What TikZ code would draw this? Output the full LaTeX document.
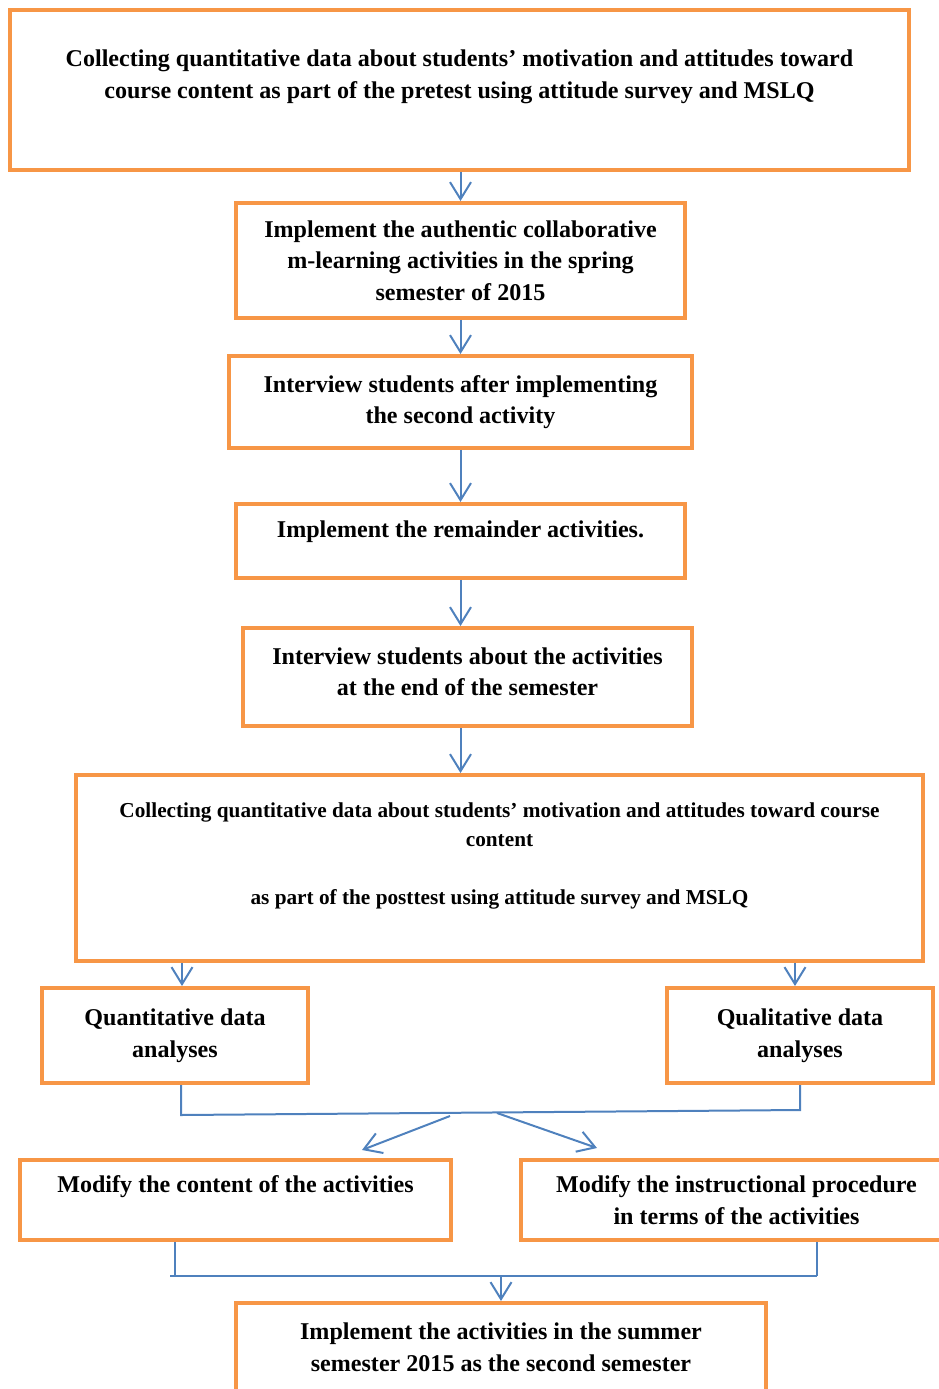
\documentclass[tikz,border=0pt]{standalone}
\usepackage{fontspec}
\setmainfont{Liberation Serif}
\usetikzlibrary{
  arrows.meta,
  positioning,
  calc
}
\definecolor{fcOrange}{HTML}{F79646}
\definecolor{fcBlue}{HTML}{4F81BD}
\tikzset{
  fcnode/.style={
    draw=fcOrange, line width=0.08cm, align=center, inner sep=2pt,
    font=\fontsize{13.7}{18}\selectfont\bfseries
  },
  fcsmall/.style={fcnode, font=\fontsize{12.1}{16.4}\selectfont\bfseries},
  flow/.style={-{Straight Barb[length=0.34cm, width=0.42cm]}, line width=0.04cm, fcBlue},
  joinline/.style={line width=0.04cm, fcBlue}
}

\begin{document}
\begin{tikzpicture}[x=0.02cm, y=-0.02cm]
  \useasboundingbox (0,0) rectangle (939,1389);
  % boxes of the flow
  \node[fcnode, minimum width=17.98cm, minimum height=3.2cm] (pretest) at (459.5,90)
    {Collecting quantitative data about students’ motivation and attitudes toward\\course content as part of the pretest using attitude survey and MSLQ\\ \mbox{}};
  \node[fcnode, minimum width=8.98cm, minimum height=2.3cm] (implement) at (460.5,260.5)
    {Implement the authentic collaborative\\m-learning activities in the spring\\semester of 2015};
  \node[fcnode, minimum width=9.26cm, minimum height=1.84cm] (interview) at (460.5,402)
    {Interview students after implementing\\the second activity};
  \node[fcnode, minimum width=8.98cm, minimum height=1.48cm] (remainder) at (460.5,541)
    {Implement the remainder activities.\\[-4pt] \mbox{}};
  \node[fcnode, minimum width=8.98cm, minimum height=1.96cm] (interviewend) at (467.5,677)
    {Interview students about the activities\\at the end of the semester\\[-12pt] \mbox{}};
  \node[fcsmall, minimum width=16.94cm, minimum height=3.72cm] (posttest) at (499.5,868)
    {Collecting quantitative data about students’ motivation and attitudes toward course\\content\\ \mbox{}\\as part of the posttest using attitude survey and MSLQ\\ \mbox{}};
  \node[fcnode, minimum width=5.32cm, minimum height=1.9cm] (quant) at (175,1035.5)
    {Quantitative data\\analyses};
  \node[fcnode, minimum width=5.32cm, minimum height=1.9cm] (qual) at (800,1035.5)
    {Qualitative data\\analyses};
  \node[fcnode, minimum width=8.62cm, minimum height=1.6cm] (modcontent) at (235.5,1200)
    {Modify the content of the activities\\ \mbox{}};
  \node[fcnode, minimum width=8.62cm, minimum height=1.6cm] (modproc) at (736.5,1200)
    {Modify the instructional procedure\\in terms of the activities};
  \node[fcnode, minimum width=10.6cm, minimum height=1.76cm] (summer) at (501,1347)
    {Implement the activities in the summer\\semester 2015 as the second semester};

  % straight arrows
  \draw[flow] (implement.north |- pretest.south) -- (implement.north);
  \draw[flow] (implement.south) -- (interview.north);
  \draw[flow] (interview.south) -- (remainder.north);
  \draw[flow] (remainder.south) -- (remainder.south |- interviewend.north);
  \draw[flow] (interviewend.south -| remainder.south) -- (remainder.south |- posttest.north);
  \draw[flow] ([xshift=0.14cm]quant.north |- posttest.south) -- ([xshift=0.14cm]quant.north);
  \draw[flow] ([xshift=-0.1cm]qual.north |- posttest.south) -- ([xshift=-0.1cm]qual.north);

  % joining the two analyses
  \coordinate (joinl) at (181,1115);
  \coordinate (joinr) at (800,1110);
  \draw[joinline] (quant.south -| joinl) -- (joinl) -- (joinr) -- (qual.south -| joinr);
  \coordinate (splitl) at (450,1116);
  \coordinate (splitr) at (497,1113);
  \coordinate (tipl) at (362,1150);
  \coordinate (tipr) at (597,1148);
  \draw[flow] (splitl) -- (tipl);
  \draw[flow] (splitr) -- (tipr);

  % joining the two changes
  \coordinate (mergel) at (175,1276);
  \coordinate (merger) at (817,1276);
  \draw[joinline] (modcontent.south -| mergel) -- (mergel);
  \draw[joinline] (modproc.south -| merger) -- (merger);
  \draw[joinline] ([xshift=-0.1cm]mergel) -- (merger);
  \draw[flow] (summer.north |- mergel) -- (summer.north);
\end{tikzpicture}
\end{document}
